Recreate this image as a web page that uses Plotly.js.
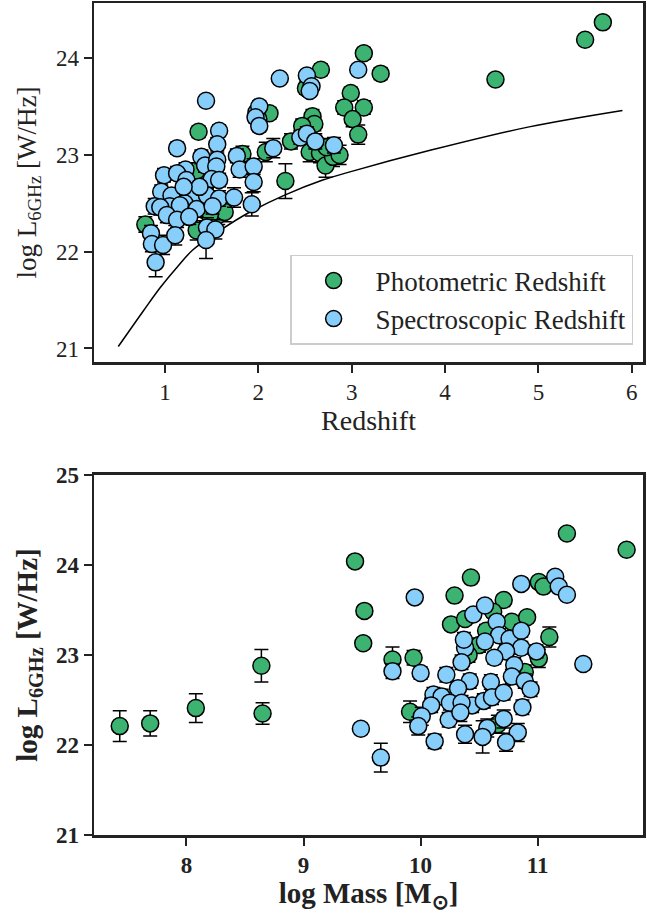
<!DOCTYPE html>
<html><head><meta charset="utf-8">
<script src="https://cdn.plot.ly/plotly-3.0.1.min.js"></script>
<style>html,body{margin:0;padding:0;background:#fff}#plot{width:647px;height:913px}</style>
</head><body><div id="plot"></div>
<script>
// ---- Top panel: redshift vs luminosity ----
const photZ = [3.13,3.31,2.67,2.51,2.99,2.92,3.13,3.01,3.07,2.12,2.58,2.60,2.47,2.35,2.55,2.66,2.72,2.80,2.87,2.73,2.08,2.29,1.36,1.83,1.34,0.79,1.34,1.57,1.64,1.48,4.54,5.50,5.69];
const photL = [24.05,23.84,23.88,23.69,23.64,23.49,23.49,23.37,23.21,23.43,23.40,23.32,23.30,23.14,23.03,23.02,22.89,22.98,23.00,23.08,23.03,22.73,23.24,23.01,22.84,22.28,22.22,22.38,22.41,22.38,23.78,24.19,24.37];
const photLerr = [0.06,0.06,0.06,0.06,0.06,0.07,0.07,0.08,0.10,0.06,0.07,0.07,0.07,0.08,0.10,0.10,0.12,0.10,0.10,0.09,0.10,0.18,0.06,0.08,0.08,0.08,0.10,0.10,0.10,0.10,0.05,0.05,0.05];

const specZ = [1.44,1.58,1.56,1.98,2.00,1.13,1.39,1.43,1.56,1.55,1.77,1.80,1.95,1.22,0.99,1.13,1.23,1.50,1.58,1.95,0.96,1.07,1.31,1.21,1.45,1.58,1.74,1.93,0.89,1.05,0.95,1.16,1.34,1.51,1.02,1.13,1.26,0.85,0.86,0.98,1.11,1.45,1.54,1.44,0.90,1.37,1.20,2.23,2.52,2.57,2.55,3.07,2.01,1.97,2.01,2.45,2.52,2.61,2.81,2.16];
const specL = [23.56,23.25,23.11,23.44,23.37,23.07,22.98,22.89,22.95,22.88,22.99,22.85,22.88,22.85,22.79,22.81,22.74,22.75,22.74,22.72,22.62,22.58,22.57,22.50,22.58,22.55,22.56,22.49,22.47,22.47,22.46,22.48,22.44,22.47,22.38,22.33,22.36,22.19,22.08,22.07,22.17,22.25,22.23,22.12,21.89,22.67,22.67,23.79,23.82,23.71,23.66,23.88,23.50,23.39,23.30,23.18,23.22,23.14,23.10,23.07];
const specLerr = [0.05,0.06,0.07,0.05,0.06,0.06,0.07,0.07,0.07,0.07,0.07,0.08,0.08,0.07,0.07,0.07,0.07,0.07,0.07,0.10,0.07,0.07,0.07,0.08,0.07,0.08,0.10,0.12,0.08,0.08,0.08,0.08,0.08,0.08,0.08,0.08,0.08,0.08,0.08,0.10,0.10,0.10,0.10,0.19,0.15,0.07,0.07,0.05,0.05,0.05,0.05,0.05,0.06,0.06,0.06,0.07,0.07,0.08,0.08,0.10];

// detection-limit curve
const limZ = [0.5,0.77,0.95,1.13,1.30,1.59,1.91,2.27,2.69,3.0,3.85,4.9,5.9];
const limL = [21.02,21.39,21.63,21.84,22.02,22.22,22.41,22.58,22.74,22.83,23.05,23.29,23.46];

// ---- Bottom panel: mass vs luminosity ----
const photM = [7.43,7.69,8.08,8.64,8.65,9.44,9.52,9.51,9.76,9.94,10.43,10.29,10.71,10.26,10.38,10.62,10.78,10.91,11.01,11.05,11.10,11.01,10.56,10.50,9.91,10.66,10.89,10.41,11.25,11.76];
const photML = [22.21,22.24,22.41,22.88,22.35,24.04,23.49,23.13,22.95,22.97,23.86,23.66,23.61,23.34,23.40,23.48,23.37,23.42,23.81,23.76,23.20,22.96,23.27,23.11,22.37,22.23,22.81,23.00,24.35,24.17];
const photMLerr = [0.17,0.14,0.16,0.18,0.12,0.05,0.05,0.06,0.14,0.08,0.05,0.05,0.06,0.06,0.06,0.06,0.06,0.06,0.05,0.05,0.11,0.10,0.07,0.08,0.12,0.10,0.08,0.08,0.05,0.05];

const specM = [9.49,9.95,10.86,11.15,11.18,11.25,11.39,10.45,10.55,10.65,10.67,10.76,10.86,10.86,10.55,10.38,10.73,10.99,10.63,10.35,10.80,9.76,10.00,10.22,10.42,10.60,10.78,10.89,10.94,10.32,10.11,10.18,10.25,10.44,10.54,10.61,10.71,10.09,10.35,10.01,9.98,10.24,10.34,10.87,10.71,10.57,10.38,10.53,10.83,10.73,10.12,9.66,10.37];
const specML = [22.18,23.64,23.79,23.87,23.76,23.67,22.90,23.45,23.55,23.37,23.22,23.18,23.27,23.08,23.15,23.08,23.04,23.04,22.97,22.92,22.89,22.82,22.80,22.78,22.71,22.70,22.76,22.71,22.62,22.63,22.56,22.54,22.47,22.44,22.49,22.53,22.58,22.44,22.47,22.32,22.21,22.28,22.36,22.42,22.29,22.19,22.12,22.09,22.14,22.03,22.04,21.86,23.17];
const specMLerr = [0.06,0.05,0.05,0.05,0.05,0.05,0.06,0.06,0.06,0.06,0.07,0.07,0.07,0.07,0.07,0.07,0.07,0.07,0.07,0.08,0.08,0.08,0.07,0.08,0.08,0.08,0.08,0.08,0.08,0.08,0.08,0.08,0.08,0.08,0.08,0.08,0.08,0.08,0.08,0.10,0.10,0.08,0.10,0.08,0.10,0.10,0.10,0.18,0.10,0.10,0.08,0.16,0.08];

const GREEN = '#3cb371', BLUE = '#87cefa';
const SERIF = 'Liberation Serif, Times New Roman, serif';

function pts(x, y, err, color, name, xa, ya, legend) {
  return {
    type: 'scatter', mode: 'markers', x: x, y: y, name: name,
    xaxis: xa, yaxis: ya, showlegend: legend,
    marker: {color: color, size: 17, line: {color: '#000', width: 1.5}},
    error_y: {type: 'data', array: err, visible: true, color: '#000', thickness: 1.5, width: 7}
  };
}

const traces = [
  {type: 'scatter', mode: 'lines', x: limZ, y: limL, xaxis: 'x', yaxis: 'y', showlegend: false,
   line: {color: '#000', width: 1.5, shape: 'spline', smoothing: 1}},
  pts(photZ, photL, photLerr, GREEN, 'Photometric Redshift', 'x', 'y', true),
  pts(specZ, specL, specLerr, BLUE, 'Spectroscopic Redshift', 'x', 'y', true),
  pts(photM, photML, photMLerr, GREEN, 'Photometric Redshift', 'x2', 'y2', false),
  pts(specM, specML, specMLerr, BLUE, 'Spectroscopic Redshift', 'x2', 'y2', false)
];

const axBase = {
  showline: true, linecolor: '#222', linewidth: 2.5, mirror: true,
  ticks: 'outside', ticklen: 8, tickwidth: 2, tickcolor: '#222',
  showgrid: false, zeroline: false, automargin: false
};
const tfont = {family: SERIF, size: 23, color: '#222'};
const tfontB = {family: SERIF, size: 23, color: '#222', weight: 'bold'};

const layout = {
  width: 647, height: 913,
  margin: {l: 94, r: 4, t: 3, b: 78},
  paper_bgcolor: '#fff', plot_bgcolor: '#fff',
  xaxis: Object.assign({}, axBase, {domain: [0, 1], anchor: 'y', range: [0.24, 6.12],
    tickvals: [1,2,3,4,5,6], tickfont: tfont,
    title: {text: 'Redshift', font: {family: SERIF, size: 28, color: '#222'}, standoff: 4}}),
  yaxis: Object.assign({}, axBase, {domain: [0.5685, 1], anchor: 'x', range: [20.86, 24.57],
    tickvals: [21,22,23,24], tickfont: tfont,
    title: {text: 'log L<sub>6GHz</sub> [W/Hz]', font: {family: SERIF, size: 27, color: '#222'}, standoff: 12}}),
  xaxis2: Object.assign({}, axBase, {domain: [0, 1], anchor: 'y2', range: [7.21, 11.9],
    tickvals: [8,9,10,11], tickfont: tfontB,
    title: {text: 'log Mass [M<sub>⊙</sub>]', font: {family: SERIF, size: 29, color: '#222', weight: 'bold'}, standoff: 4}}),
  yaxis2: Object.assign({}, axBase, {domain: [0, 0.4327], anchor: 'x2', range: [21, 25],
    tickvals: [21,22,23,24,25], tickfont: tfontB,
    title: {text: 'log L<sub>6GHz</sub> [W/Hz]', font: {family: SERIF, size: 29, color: '#222', weight: 'bold'}, standoff: 10}}),
  legend: {x: 0.982, xanchor: 'right', y: 0.589, yanchor: 'bottom',
    bordercolor: '#cccccc', borderwidth: 1.5, bgcolor: 'rgba(255,255,255,0.8)',
    font: {family: SERIF, size: 27, color: '#222'}, itemsizing: 'trace', itemwidth: 74},
  showlegend: true
};

Plotly.newPlot('plot', traces, layout, {staticPlot: true});
</script></body></html>
